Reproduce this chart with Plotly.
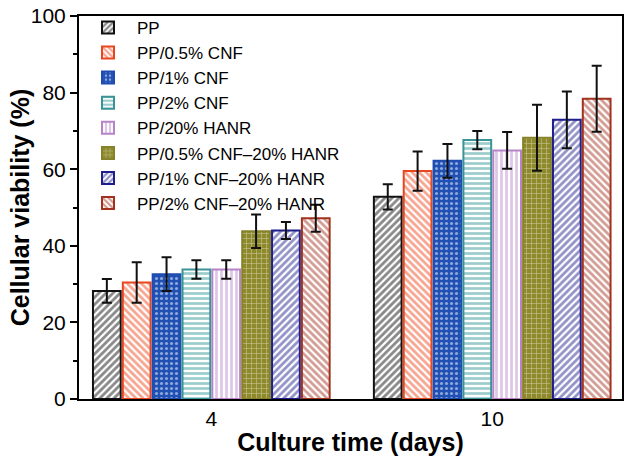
import plotly.graph_objects as go

# Culture time categories (days)
days = ["4", "10"]

# Cell viability (%) per sample, [day 4, day 10]
series_names = [
    "PP",
    "PP/0.5% CNF",
    "PP/1% CNF",
    "PP/2% CNF",
    "PP/20% HANR",
    "PP/0.5% CNF\u201320% HANR",
    "PP/1% CNF\u201320% HANR",
    "PP/2% CNF\u201320% HANR",
]
viability = [
    [28.2, 52.8],
    [30.4, 59.5],
    [32.6, 62.2],
    [33.8, 67.6],
    [33.8, 64.9],
    [43.8, 68.2],
    [44.0, 72.9],
    [47.2, 78.4],
]
errors = [
    [3.1, 3.3],
    [5.3, 5.1],
    [4.4, 4.4],
    [2.4, 2.4],
    [2.4, 4.8],
    [4.4, 8.6],
    [2.2, 7.4],
    [3.5, 8.6],
]

# (shape, fg, bg, outline, solidity)
styles = [
    ("/", "#111111", "white", "#111111", 0.55),
    ("\\", "#EE4B22", "white", "#E8461E", 0.55),
    (".", "white", "#2050B4", "#1F4CB0", 0.3),
    ("-", "#3C9A9C", "white", "#3A9496", 0.55),
    ("|", "#BE8ED0", "white", "#B784C8", 0.55),
    ("+", "white", "#8E8A2C", "#86822A", 0.22),
    ("/", "#25258F", "white", "#1E1E8C", 0.55),
    ("\\", "#A53A28", "white", "#A0321E", 0.55),
]

fig = go.Figure()

for name, vals, errs, (shape, fg, bg, edge, sol) in zip(series_names, viability, errors, styles):
    fig.add_trace(go.Bar(
        x=days,
        y=vals,
        name=name,
        error_y=dict(type='data', array=errs, color='#111111', thickness=2, width=5),
        marker=dict(
            color=bg,
            line=dict(color=edge, width=2),
            pattern=dict(shape=shape, fgcolor=fg, bgcolor=bg, size=5, solidity=sol),
        ),
    ))

fig.update_layout(
    width=629,
    height=466,
    margin=dict(l=79, r=7, t=16, b=67, autoexpand=False),
    paper_bgcolor="white",
    plot_bgcolor="white",
    font=dict(family="Arial, Liberation Sans, sans-serif", color="black"),
    barmode='group',
    bargap=0.15,
    bargroupgap=0.07,
    showlegend=True,
    legend=dict(
        x=0.0, y=1.016, xanchor='left', yanchor='top',
        bgcolor='rgba(0,0,0,0)',
        font=dict(size=17),
        tracegroupgap=0,
        itemwidth=48,
    ),
)

# y title as an annotation so it can sit a little closer to the tick labels
fig.add_annotation(
    text="<b>Cellular viability (%)</b>",
    xref="paper", yref="paper", x=-0.109, y=0.5,
    xanchor="center", yanchor="middle", textangle=-90,
    showarrow=False, font=dict(size=25),
)

fig.update_xaxes(
    type='category',
    range=[-0.471, 1.462],
    automargin=False,
    title=dict(text="<b>Culture time (days)</b>", font=dict(size=25), standoff=4),
    tickfont=dict(size=21),
    showline=True, linecolor='black', linewidth=2, mirror=True,
    ticks='', showgrid=False,
)

fig.update_yaxes(
    range=[0, 100],
    automargin=False,
    tickvals=[0, 20, 40, 60, 80, 100],
    tickfont=dict(size=21),
    showline=True, linecolor='black', linewidth=2, mirror=True,
    ticks='outside', ticklen=7, tickwidth=1.5, tickcolor='black',
    minor=dict(tickvals=[10, 30, 50, 70, 90], ticks='outside', ticklen=4, tickwidth=1.5, tickcolor='black'),
    showgrid=False, zeroline=False,
    ticklabeloverflow='allow',
)

# drop the default page margin so the figure sits at the window corner
fig.write_html(
    "out.html",
    config={"displayModeBar": False},
    post_script="document.body.style.margin='0';",
)
